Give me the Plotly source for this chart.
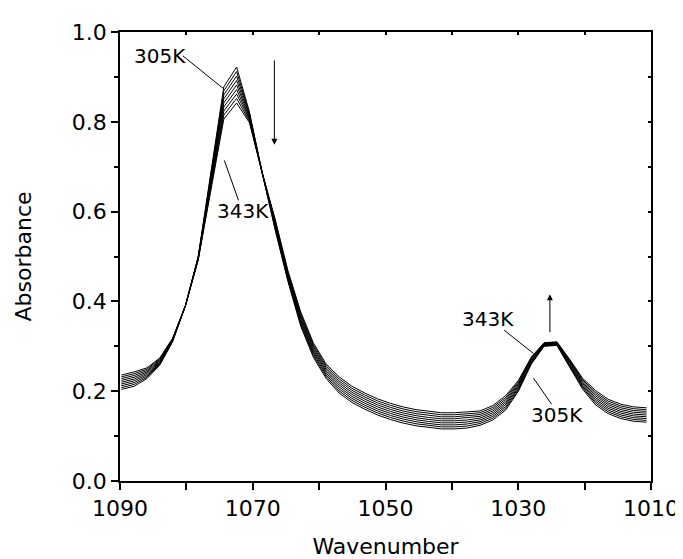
import plotly.graph_objects as go

wavenumber = [1089.80, 1087.87, 1085.94, 1084.01, 1082.08, 1080.15, 1078.22, 1076.29,
              1074.36, 1072.43, 1070.50, 1068.57, 1066.64, 1064.71, 1062.78, 1060.85,
              1058.92, 1056.99, 1055.06, 1053.13, 1051.20, 1049.27, 1047.34, 1045.41,
              1043.48, 1041.55, 1039.62, 1037.69, 1035.76, 1033.83, 1031.90, 1029.97,
              1028.04, 1026.11, 1024.18, 1022.25, 1020.32, 1018.39, 1016.46, 1014.53,
              1012.60, 1010.67]

abs_305K = [0.204, 0.211, 0.228, 0.258, 0.310, 0.390, 0.500, 0.685, 0.878, 0.922, 0.822, 0.686,
            0.560, 0.445, 0.345, 0.275, 0.228, 0.196, 0.175, 0.160, 0.147, 0.137, 0.129, 0.123,
            0.119, 0.116, 0.116, 0.118, 0.124, 0.136, 0.158, 0.200, 0.260, 0.300, 0.302, 0.255,
            0.205, 0.170, 0.150, 0.139, 0.133, 0.131]
abs_310K = [0.208, 0.215, 0.231, 0.260, 0.311, 0.390, 0.499, 0.680, 0.869, 0.912, 0.819, 0.686,
            0.563, 0.448, 0.349, 0.279, 0.232, 0.2005, 0.1795, 0.1645, 0.1515, 0.1415, 0.1335, 0.1275,
            0.1235, 0.1205, 0.1205, 0.1225, 0.128, 0.140, 0.162, 0.203, 0.262, 0.301, 0.303, 0.257,
            0.208, 0.174, 0.154, 0.143, 0.137, 0.135]
abs_315K = [0.212, 0.219, 0.234, 0.262, 0.312, 0.390, 0.498, 0.675, 0.860, 0.902, 0.816, 0.686,
            0.566, 0.451, 0.353, 0.283, 0.236, 0.205, 0.184, 0.169, 0.156, 0.146, 0.138, 0.132,
            0.128, 0.125, 0.125, 0.127, 0.132, 0.144, 0.166, 0.206, 0.264, 0.302, 0.304, 0.259,
            0.211, 0.178, 0.158, 0.147, 0.141, 0.139]
abs_320K = [0.216, 0.223, 0.237, 0.264, 0.313, 0.390, 0.497, 0.670, 0.851, 0.892, 0.813, 0.686,
            0.569, 0.454, 0.357, 0.287, 0.240, 0.2095, 0.1885, 0.1735, 0.1605, 0.1505, 0.1425, 0.1365,
            0.1325, 0.1295, 0.1295, 0.1315, 0.136, 0.148, 0.170, 0.209, 0.266, 0.303, 0.305, 0.261,
            0.214, 0.182, 0.162, 0.151, 0.145, 0.143]
abs_325K = [0.220, 0.227, 0.240, 0.266, 0.314, 0.390, 0.496, 0.665, 0.842, 0.882, 0.810, 0.686,
            0.572, 0.457, 0.361, 0.291, 0.244, 0.214, 0.193, 0.178, 0.165, 0.155, 0.147, 0.141,
            0.137, 0.134, 0.134, 0.136, 0.140, 0.152, 0.174, 0.212, 0.268, 0.304, 0.306, 0.263,
            0.217, 0.186, 0.166, 0.155, 0.149, 0.147]
abs_330K = [0.224, 0.231, 0.243, 0.268, 0.315, 0.390, 0.495, 0.660, 0.833, 0.872, 0.807, 0.686,
            0.575, 0.460, 0.365, 0.295, 0.248, 0.2185, 0.1975, 0.1825, 0.1695, 0.1595, 0.1515, 0.1455,
            0.1415, 0.1385, 0.1385, 0.1405, 0.144, 0.156, 0.178, 0.215, 0.270, 0.305, 0.307, 0.265,
            0.220, 0.190, 0.170, 0.159, 0.153, 0.151]
abs_335K = [0.228, 0.235, 0.246, 0.270, 0.316, 0.390, 0.494, 0.655, 0.824, 0.862, 0.804, 0.686,
            0.578, 0.463, 0.369, 0.299, 0.252, 0.223, 0.202, 0.187, 0.174, 0.164, 0.156, 0.150,
            0.146, 0.143, 0.143, 0.145, 0.148, 0.160, 0.182, 0.218, 0.272, 0.306, 0.308, 0.267,
            0.223, 0.194, 0.174, 0.163, 0.157, 0.155]
abs_340K = [0.232, 0.239, 0.249, 0.272, 0.317, 0.390, 0.493, 0.650, 0.815, 0.852, 0.801, 0.686,
            0.581, 0.466, 0.373, 0.303, 0.256, 0.2275, 0.2065, 0.1915, 0.1785, 0.1685, 0.1605, 0.1545,
            0.1505, 0.1475, 0.1475, 0.1495, 0.152, 0.164, 0.186, 0.221, 0.274, 0.307, 0.309, 0.269,
            0.226, 0.198, 0.178, 0.167, 0.161, 0.159]
abs_343K = [0.236, 0.243, 0.252, 0.274, 0.318, 0.390, 0.492, 0.645, 0.806, 0.842, 0.798, 0.686,
            0.584, 0.469, 0.377, 0.307, 0.260, 0.232, 0.211, 0.196, 0.183, 0.173, 0.165, 0.159,
            0.155, 0.152, 0.152, 0.154, 0.156, 0.168, 0.190, 0.224, 0.276, 0.308, 0.310, 0.271,
            0.229, 0.202, 0.182, 0.171, 0.165, 0.163]

temperatures = ["305K", "310K", "315K", "320K", "325K", "330K", "335K", "340K", "343K"]
spectra = [abs_305K, abs_310K, abs_315K, abs_320K, abs_325K, abs_330K, abs_335K, abs_340K, abs_343K]

x_ticks = [1090, 1070, 1050, 1030, 1010]
x_minor = [1080, 1060, 1040, 1020]
y_ticks = [0.0, 0.2, 0.4, 0.6, 0.8, 1.0]
y_minor = [0.1, 0.3, 0.5, 0.7, 0.9]

FONT = "DejaVu Sans, Liberation Sans, Arial, sans-serif"

fig = go.Figure()
for name, ys in zip(temperatures, spectra):
    fig.add_trace(go.Scatter(x=wavenumber, y=ys, mode="lines", name=name,
                             line=dict(color="black", width=1), showlegend=False,
                             hoverinfo="skip"))
# empty trace to activate the mirrored top/right tick axes
fig.add_trace(go.Scatter(x=[None], y=[None], xaxis="x2", yaxis="y2", showlegend=False,
                         hoverinfo="skip"))

# leader lines for labels
leaders = [
    ((1080.54, 0.947), (1074.43, 0.874)),
    ((1072.15, 0.625), (1074.28, 0.714)),
    ((1032.13, 0.336), (1027.70, 0.284)),
    ((1024.98, 0.171), (1027.70, 0.229)),
]
for (x0, y0), (x1, y1) in leaders:
    fig.add_shape(type="line", x0=x0, y0=y0, x1=x1, y1=y1, xref="x", yref="y",
                  line=dict(color="black", width=1))

labels = [
    ("305K", 1084.0, 0.947),
    ("343K", 1071.5, 0.601),
    ("343K", 1034.6, 0.360),
    ("305K", 1024.1, 0.147),
]
for txt, x, y in labels:
    fig.add_annotation(x=x, y=y, text=txt, showarrow=False, xref="x", yref="y",
                       font=dict(family=FONT, size=20, color="black"))

# arrows
fig.add_annotation(x=1066.74, y=0.749, ax=1066.74, ay=0.940, xref="x", yref="y",
                   axref="x", ayref="y", text="", showarrow=True, arrowhead=2,
                   arrowsize=1.2, arrowwidth=1, arrowcolor="black")
fig.add_annotation(x=1025.23, y=0.416, ax=1025.23, ay=0.328, xref="x", yref="y",
                   axref="x", ayref="y", text="", showarrow=True, arrowhead=2,
                   arrowsize=1.2, arrowwidth=1, arrowcolor="black")

fig.update_layout(
    width=683, height=559, margin=dict(l=112, r=30, t=23, b=81),
    plot_bgcolor="white", paper_bgcolor="white",
    xaxis=dict(range=[1090, 1010], tickvals=x_ticks, ticktext=[str(v) for v in x_ticks],
               ticks="outside", ticklen=7, tickwidth=1.5, tickcolor="black",
               showline=True, linecolor="black", linewidth=1.5, mirror=True,
               showgrid=False, zeroline=False,
               minor=dict(tickvals=x_minor, ticks="outside", ticklen=7,
                          tickwidth=1.5, tickcolor="black"),
               tickfont=dict(family=FONT, size=22, color="black"),
               title=dict(text="Wavenumber", font=dict(family=FONT, size=22, color="black"),
                          standoff=18)),
    yaxis=dict(range=[0, 1.0], tickvals=y_ticks, ticktext=[f"{v:.1f}" for v in y_ticks],
               ticks="outside", ticklen=7, tickwidth=1.5, tickcolor="black",
               showline=True, linecolor="black", linewidth=1.5, mirror=True,
               showgrid=False, zeroline=False,
               minor=dict(tickvals=y_minor, ticks="outside", ticklen=4,
                          tickwidth=1.5, tickcolor="black"),
               tickfont=dict(family=FONT, size=22, color="black"),
               title=dict(text="Absorbance", font=dict(family=FONT, size=22, color="black"),
                          standoff=34)),
    xaxis2=dict(overlaying="x", side="top", anchor="y2", range=[1090, 1010],
                tickvals=x_ticks + x_minor, ticks="inside", ticklen=3, tickwidth=1.5,
                tickcolor="black", showticklabels=False, showgrid=False, zeroline=False,
                showline=False),
    yaxis2=dict(overlaying="y", side="right", anchor="x2", range=[0, 1.0],
                tickvals=y_ticks + y_minor, ticks="inside", ticklen=3, tickwidth=1.5,
                tickcolor="black", showticklabels=False, showgrid=False, zeroline=False,
                showline=False),
)

fig.write_html("out.html")
